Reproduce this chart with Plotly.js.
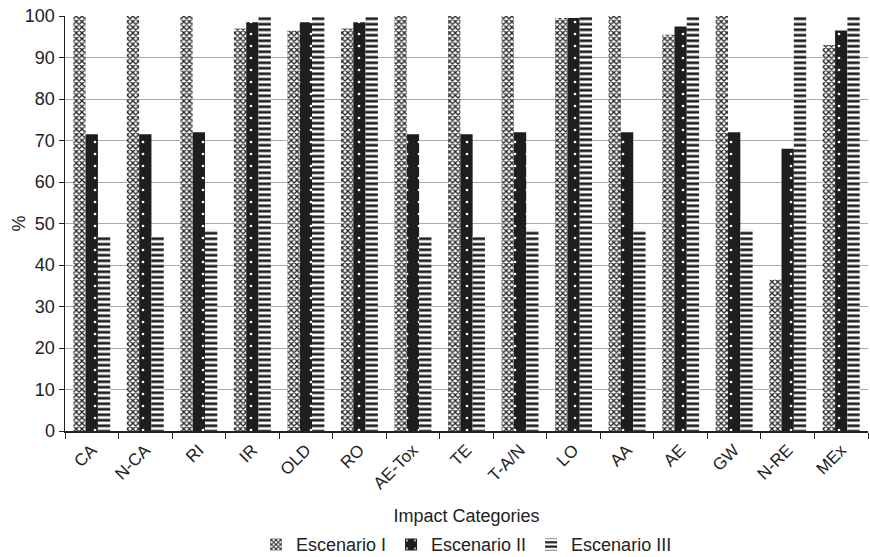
<!DOCTYPE html>
<html><head><meta charset="utf-8">
<script src="https://cdn.plot.ly/plotly-3.0.1.min.js"></script>
<style>html,body{margin:0;padding:0;background:#fff}#chart{width:870px;height:557px}</style>
</head><body><div id="chart"></div>
<script>
var categories = ["CA","N-CA","RI","IR","OLD","RO","AE-Tox","TE","T-A/N","LO","AA","AE","GW","N-RE","MEx"];
var escenarioI   = [100,100,100,97,96.5,97,100,100,100,99.5,100,95.5,100,36.5,93];
var escenarioII  = [71.5,71.5,72,98.5,98.5,98.5,71.5,71.5,72,99.5,72,97.5,72,68,96.5];
var escenarioIII = [47,47,48.5,100,100,100,47,47,48.5,100,48.5,100,48.5,100,100];
var yTicks = [0,10,20,30,40,50,60,70,80,90,100];

var font = "Liberation Sans, Arial, sans-serif";
var traces = [
  {type:"bar", name:"Escenario I", x:categories, y:escenarioI,
   marker:{color:"#ffffff", line:{width:0},
     pattern:{shape:"x", fgcolor:"#222", bgcolor:"#ffffff", size:4, solidity:0.55, fillmode:"replace"}}},
  {type:"bar", name:"Escenario II", x:categories, y:escenarioII,
   marker:{color:"#1e1e1e", line:{width:0},
     pattern:{shape:".", fgcolor:"#ffffff", bgcolor:"#1e1e1e", size:12, solidity:0.04, fillmode:"replace"}}},
  {type:"bar", name:"Escenario III", x:categories, y:escenarioIII,
   marker:{color:"#ffffff", line:{width:0},
     pattern:{shape:"-", fgcolor:"#1e1e1e", bgcolor:"#ffffff", size:5.5, solidity:0.5, fillmode:"replace"}}}
];
var layout = {
  width:870, height:557,
  margin:{l:65, r:2, t:16, b:126},
  paper_bgcolor:"#fff", plot_bgcolor:"#fff",
  barmode:"group", bargap:0.31, bargroupgap:0,
  font:{family:font, size:18, color:"#222"},
  xaxis:{
    automargin:false,
    tickangle:-45, tickfont:{size:17}, ticklabelstandoff:1,
    showline:true, linecolor:"#222", linewidth:1.5,
    ticks:"outside", tickson:"boundaries", ticklen:6, tickcolor:"#222",
    title:{text:"Impact Categories", font:{size:18}, standoff:26}
  },
  yaxis:{
    automargin:false,
    range:[0,100], tickvals:yTicks, showgrid:true, gridcolor:"#aaaaaa", gridwidth:1,
    showline:true, linecolor:"#222", linewidth:1.5,
    ticks:"outside", ticklen:5, tickcolor:"#222", tickfont:{size:18},
    zeroline:false
  },
  annotations:[{text:"%", xref:"paper", yref:"paper", x:-(65-18)/803, y:0.5,
    xanchor:"center", yanchor:"middle", textangle:-90, showarrow:false, font:{size:18}}],
  showlegend:true,
  legend:{orientation:"h", x:0.5, xanchor:"center", yref:"container", y:0.022, yanchor:"middle",
    font:{size:18}, itemwidth:30, traceorder:"normal"}
};
Plotly.newPlot("chart", traces, layout, {displayModeBar:false, staticPlot:true});
</script></body></html>
